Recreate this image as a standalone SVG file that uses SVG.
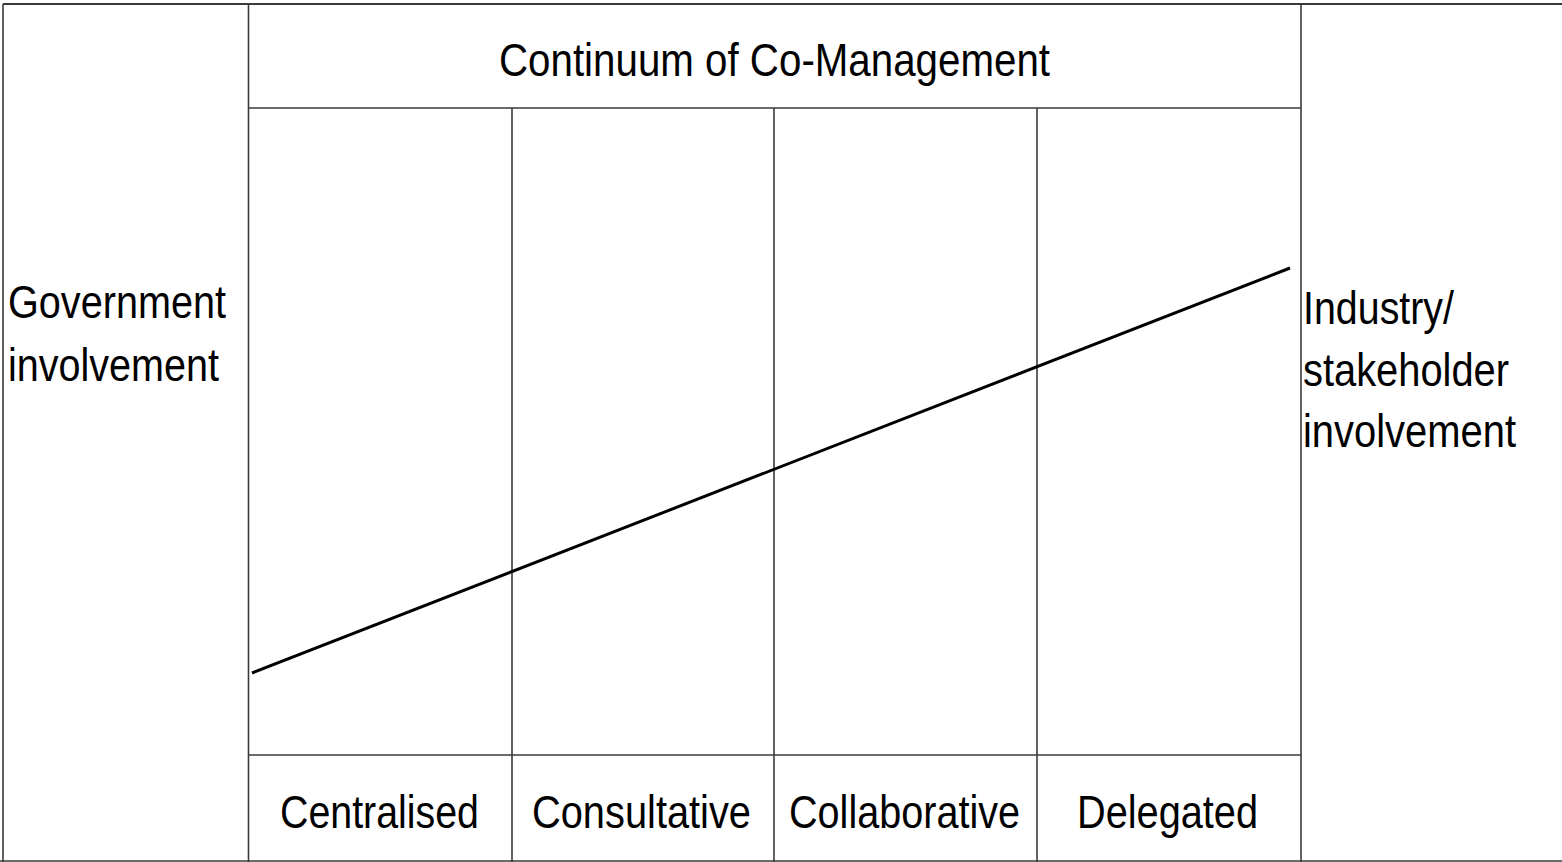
<svg xmlns="http://www.w3.org/2000/svg" width="1562" height="862" viewBox="0 0 1562 862">
<style>
.grid{stroke:#3a3a3a;stroke-width:1.6;fill:none}
.t{font-family:"Liberation Sans",Arial,sans-serif;font-size:46px;fill:#000}
.trend{stroke:#000;stroke-width:3;fill:none}
</style>
<rect x="0" y="0" width="1562" height="862" fill="#fff"/>
<g id="frame" class="grid">
<line x1="3" y1="4" x2="1562" y2="4" stroke-width="2.2"/>
<line x1="3" y1="4" x2="3" y2="862"/>
<line x1="0" y1="861" x2="1562" y2="861"/>
<line x1="248.5" y1="4" x2="248.5" y2="862"/>
<line x1="1301" y1="4" x2="1301" y2="862"/>
<line x1="248.5" y1="108" x2="1301" y2="108"/>
<line x1="248.5" y1="755" x2="1301" y2="755"/>
<line x1="512" y1="108" x2="512" y2="862"/>
<line x1="774" y1="108" x2="774" y2="862"/>
<line x1="1037" y1="108" x2="1037" y2="862"/>
</g>
<g id="title"><text class="t" x="499" y="76" textLength="551" lengthAdjust="spacingAndGlyphs">Continuum of Co-Management</text></g>
<g id="government"><text class="t" x="8" y="318" textLength="218" lengthAdjust="spacingAndGlyphs">Government</text><text class="t" x="8" y="381" textLength="211" lengthAdjust="spacingAndGlyphs">involvement</text></g>
<g id="industry"><text class="t" x="1303" y="324" textLength="151" lengthAdjust="spacingAndGlyphs">Industry/</text><text class="t" x="1303" y="386" textLength="206" lengthAdjust="spacingAndGlyphs">stakeholder</text><text class="t" x="1303" y="447" textLength="213" lengthAdjust="spacingAndGlyphs">involvement</text></g>
<g id="centralised"><text class="t" x="280" y="828" textLength="199" lengthAdjust="spacingAndGlyphs">Centralised</text></g>
<g id="consultative"><text class="t" x="532" y="828" textLength="219" lengthAdjust="spacingAndGlyphs">Consultative</text></g>
<g id="collaborative"><text class="t" x="789" y="828" textLength="231" lengthAdjust="spacingAndGlyphs">Collaborative</text></g>
<g id="delegated"><text class="t" x="1077" y="828" textLength="181" lengthAdjust="spacingAndGlyphs">Delegated</text></g>
<g id="connectors"><line class="trend" x1="252" y1="673" x2="1290" y2="268"/></g>
</svg>
